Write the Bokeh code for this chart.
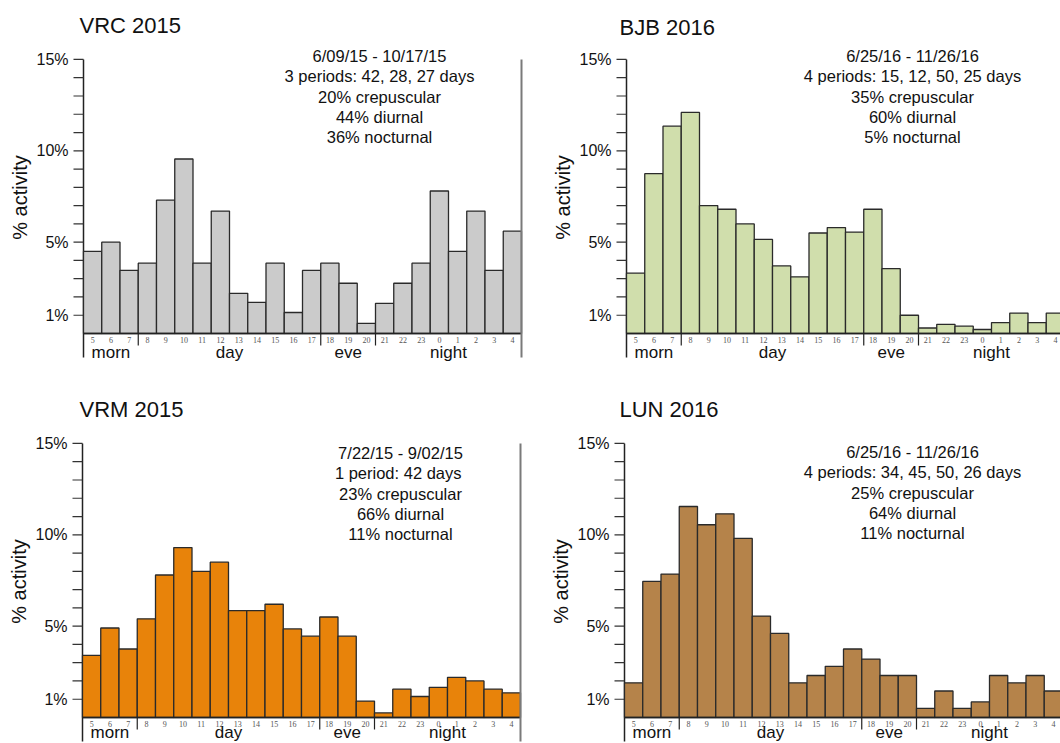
import numpy as np
from bokeh.plotting import figure
from bokeh.models import Range1d
from bokeh.layouts import column, row
from bokeh.core.properties import value
from bokeh.embed import file_html
from bokeh.resources import INLINE

# ---------------- data ----------------
hours = ["5", "6", "7", "8", "9", "10", "11", "12", "13", "14", "15", "16", "17",
         "18", "19", "20", "21", "22", "23", "0", "1", "2", "3", "4"]
groups = ["morn", "day", "eve", "night"]
group_edges = [0, 3, 13, 16, 24]          # hour-index boundaries of the groups

y_tick_values = [1, 5, 10, 15]
y_minor_values = [2, 3, 4, 6, 7, 8, 9, 11, 12, 13, 14]
y_tick_labels = ["1%", "5%", "10%", "15%"]

vrc_values = [4.5, 5.0, 3.45, 3.85, 7.3, 9.55, 3.85, 6.7, 2.2, 1.7, 3.85, 1.15,
              3.45, 3.85, 2.75, 0.55, 1.65, 2.75, 3.85, 7.8, 4.5, 6.7, 3.45, 5.6]
bjb_values = [3.3, 8.75, 11.35, 12.1, 7.0, 6.8, 6.0, 5.15, 3.7, 3.1, 5.5, 5.8,
              5.55, 6.8, 3.55, 1.0, 0.3, 0.5, 0.4, 0.22, 0.6, 1.12, 0.6, 1.12]
vrm_values = [3.4, 4.9, 3.75, 5.4, 7.8, 9.3, 8.0, 8.5, 5.85, 5.85, 6.2, 4.85,
              4.45, 5.5, 4.45, 0.9, 0.25, 1.55, 1.15, 1.65, 2.2, 2.0, 1.55, 1.35]
lun_values = [1.9, 7.45, 7.85, 11.55, 10.55, 11.15, 9.8, 5.55, 4.6, 1.9, 2.3, 2.8,
              3.75, 3.2, 2.3, 2.3, 0.5, 1.45, 0.5, 0.85, 2.3, 1.9, 2.3, 1.45]

vrc_info = ["6/09/15 - 10/17/15", "3 periods: 42, 28, 27 days",
            "20% crepuscular", "44% diurnal", "36% nocturnal"]
bjb_info = ["6/25/16 - 11/26/16", "4 periods: 15, 12, 50, 25 days",
            "35% crepuscular", "60% diurnal", "5% nocturnal"]
vrm_info = ["7/22/15 - 9/02/15", "1 period: 42  days",
            "23% crepuscular", "66% diurnal", "11% nocturnal"]
lun_info = ["6/25/16 - 11/26/16", "4 periods: 34, 45, 50, 26 days",
            "25% crepuscular", "64% diurnal", "11% nocturnal"]

# ---------------- styling / layout ----------------
K = 18.27      # px per 1 %
BW = 18.25     # px per hour bar
FONT = "Liberation Sans"
INK = "#111111"


def panel(vals, color, title, info, box, ax, by, title_xy, info_x, info_y, group_base):
    fx0, fy0, fw, fh = box

    def dx(px):
        return (px - ax) / BW

    def dy(py):
        return (by - py) / K

    p = figure(width=fw, height=fh,
               x_range=Range1d(dx(fx0), dx(fx0 + fw)),
               y_range=Range1d(dy(fy0 + fh), dy(fy0)),
               x_axis_type=None, y_axis_type=None,
               output_backend="svg", toolbar_location=None,
               min_border_left=0, min_border_right=0,
               min_border_top=0, min_border_bottom=0)
    p.outline_line_color = None
    p.background_fill_color = "white"
    p.border_fill_color = "white"

    n = len(hours)
    idx = np.arange(n)
    ytop = max(y_tick_values)

    # ---- y axis (line, ticks, labels, title) ----
    p.segment(x0=[0], y0=[dy(by + 24)], x1=[0], y1=[ytop],
              line_color="#222222", line_width=1.5)
    all_ticks = sorted(y_tick_values + y_minor_values)
    p.segment(x0=[dx(ax - 10)] * len(all_ticks), y0=all_ticks,
              x1=[0] * len(all_ticks), y1=all_ticks,
              line_color="#333333", line_width=1.2)
    p.text(x=[dx(ax - 15)] * len(y_tick_values), y=y_tick_values, text=y_tick_labels,
           text_align="right", text_baseline="middle",
           text_font=value(FONT), text_font_size="16px", text_color=INK)
    p.text(x=[dx(ax - 64)], y=[dy(by - 136)], text=["% activity"], angle=np.pi / 2,
           text_align="center", text_baseline="middle",
           text_font=value(FONT), text_font_size="20px", text_color=INK)

    # ---- bars ----
    p.quad(left=idx, right=idx + 1, bottom=0, top=vals,
           fill_color=color, line_color="#2a2a2a", line_width=1.3)

    # baseline
    p.segment(x0=[0], y0=[0], x1=[n], y1=[0], line_color="#222222", line_width=1.5)

    # right frame line
    p.segment(x0=[n], y0=[ytop], x1=[n], y1=[dy(by + 24)],
              line_color="#7a7a7a", line_width=2)

    # group separators
    seps = group_edges[1:-1]
    p.segment(x0=seps, y0=[0] * len(seps), x1=seps, y1=[dy(by + 12)] * len(seps),
              line_color="#222222", line_width=1.2)

    # hour labels
    p.text(x=idx + 0.5, y=[dy(by + 6.5)] * n, text=hours,
           text_align="center", text_baseline="middle",
           text_font=value("Liberation Serif"), text_font_size="8px",
           text_color="#555555")

    # group labels
    gx = [(a + b) / 2 for a, b in zip(group_edges[:-1], group_edges[1:])]
    p.text(x=gx, y=[dy(group_base - 6)] * len(gx), text=groups,
           text_align="center", text_baseline="middle",
           text_font=value(FONT), text_font_size="17px", text_color=INK)

    # info block
    p.text(x=[dx(info_x)] * len(info), y=[dy(v) for v in info_y], text=info,
           text_align="center", text_baseline="middle",
           text_font=value(FONT), text_font_size="16.5px", text_color=INK)

    # title
    p.text(x=[dx(title_xy[0])], y=[dy(title_xy[1])], text=[title],
           text_align="left", text_baseline="middle",
           text_font=value(FONT), text_font_size="22px", text_color=INK)
    return p


p1 = panel(vrc_values, "#cbcbcb", "VRC 2015", vrc_info,
           box=(0, 0, 530, 371), ax=83, by=333, title_xy=(79, 25),
           info_x=379, info_y=[55, 75, 96, 116, 136], group_base=358)
p2 = panel(bjb_values, "#d0deac", "BJB 2016", bjb_info,
           box=(530, 0, 530, 371), ax=626, by=333, title_xy=(619, 27),
           info_x=912, info_y=[55, 75, 96, 116, 136], group_base=358)
p3 = panel(vrm_values, "#e8830a", "VRM 2015", vrm_info,
           box=(0, 371, 530, 372), ax=82, by=717, title_xy=(79, 409),
           info_x=400, info_y=[452, 472, 493, 513, 533], group_base=738)
p4 = panel(lun_values, "#b5834a", "LUN 2016", lun_info,
           box=(530, 371, 530, 372), ax=624, by=717, title_xy=(619, 409),
           info_x=912, info_y=[451, 471, 492, 512, 532], group_base=738)

layout = column(row(p1, p2), row(p3, p4))

with open("out.html", "w") as f:
    f.write(file_html(layout, INLINE))
